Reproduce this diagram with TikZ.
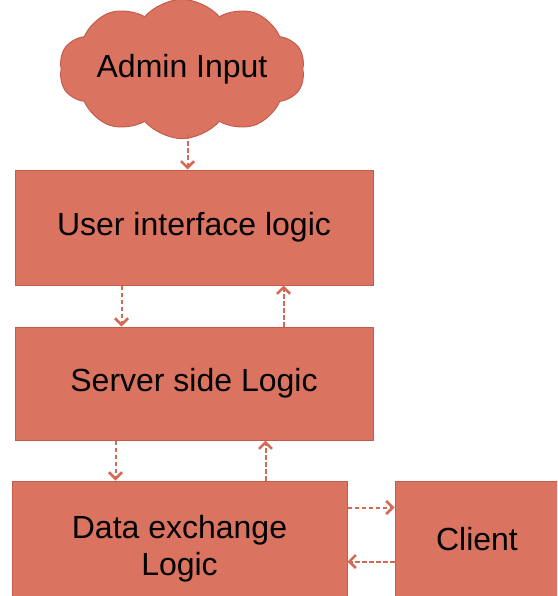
\documentclass[tikz,border=0pt]{standalone}
\usepackage{fontspec}
\setmainfont{Liberation Sans}
\usetikzlibrary{shapes.symbols,arrows.meta,calc}
\definecolor{boxfill}{RGB}{219,115,97}
\definecolor{boxline}{RGB}{196,92,76}
\definecolor{arrcol}{RGB}{212,105,86}
\tikzset{
  box/.style={rectangle,fill=boxfill,draw=boxline,line width=1pt,inner sep=0pt,
    font=\fontsize{32}{37}\selectfont,align=center,text=black},
  lbl/.style={inner sep=0pt,font=\fontsize{32}{37}\selectfont,align=center,text=black},
  cloudbox/.style={cloud,cloud puffs=10,cloud puff arc=100,aspect=2.2,fill=boxfill,draw=boxline,
    line width=1pt,inner sep=0pt,minimum width=238pt,minimum height=104pt,
    font=\fontsize{32}{37}\selectfont,text=black},
  arr/.style={draw=arrcol,line width=2pt,dash pattern=on 4.5pt off 2.5pt,
    -{Straight Barb[length=6.5pt,width=13pt,line width=2.6pt]}}
}
\begin{document}
\begin{tikzpicture}[x=1pt,y=-1pt]
\useasboundingbox (0,0) rectangle (557,596);
\begin{scope}
\clip (0,0) rectangle (557,596);
\node[cloudbox] (cloud) at (182,69) {Admin Input};
\node[box,minimum width=358pt,minimum height=115pt] (ui) at (194,227.5) {User interface logic};
\node[box,minimum width=358pt,minimum height=113pt] (server) at (194,383.5) {Server side Logic};
\node[box,minimum width=335pt,minimum height=117pt] (data) at (179.5,539.5) {};
\node[lbl] (datalbl) at ($(data.center)+(0,9)$) {Data exchange\\Logic};
\node[box,minimum width=164pt,minimum height=117pt] (client) at (477,539.5) {Client};
\end{scope}
\draw[arr] ($(ui.north west)+(173,-35)$) -- ($(ui.north west)+(173,0)$);
\draw[arr] ($(ui.south west)+(107,0)$) -- ($(server.north west)+(107,0)$);
\draw[arr] ($(server.north west)+(269,0)$) -- ($(ui.south west)+(269,0)$);
\draw[arr] ($(server.south west)+(101,0)$) -- ($(data.north west)+(104,0)$);
\draw[arr] ($(data.north west)+(254,0)$) -- ($(server.south west)+(251,0)$);
\draw[arr] ($(data.north east)+(0,27)$) -- ($(client.north west)+(0,27)$);
\draw[arr] ($(client.north west)+(0,81)$) -- ($(data.north east)+(0,81)$);
\end{tikzpicture}
\end{document}
